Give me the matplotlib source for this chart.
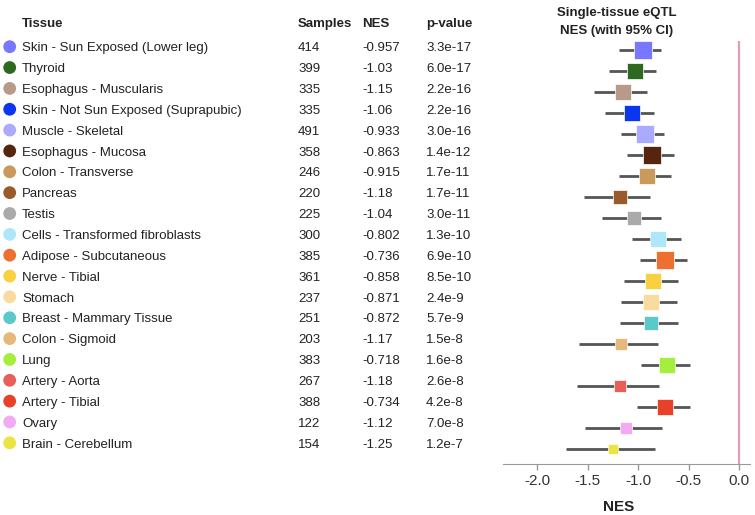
import matplotlib
matplotlib.use("Agg")
import matplotlib.pyplot as plt

plt.rcParams['font.family'] = ['Liberation Sans', 'DejaVu Sans']

tissues = ['Skin - Sun Exposed (Lower leg)', 'Thyroid', 'Esophagus - Muscularis',
           'Skin - Not Sun Exposed (Suprapubic)', 'Muscle - Skeletal', 'Esophagus - Mucosa',
           'Colon - Transverse', 'Pancreas', 'Testis', 'Cells - Transformed fibroblasts',
           'Adipose - Subcutaneous', 'Nerve - Tibial', 'Stomach', 'Breast - Mammary Tissue',
           'Colon - Sigmoid', 'Lung', 'Artery - Aorta', 'Artery - Tibial', 'Ovary',
           'Brain - Cerebellum']
samples = [414, 399, 335, 335, 491, 358, 246, 220, 225, 300,
           385, 361, 237, 251, 203, 383, 267, 388, 122, 154]
nes = [-0.957, -1.03, -1.15, -1.06, -0.933, -0.863, -0.915, -1.18, -1.04, -0.802,
       -0.736, -0.858, -0.871, -0.872, -1.17, -0.718, -1.18, -0.734, -1.12, -1.25]
pvalues = ['3.3e-17', '6.0e-17', '2.2e-16', '2.2e-16', '3.0e-16', '1.4e-12', '1.7e-11',
           '1.7e-11', '3.0e-11', '1.3e-10', '6.9e-10', '8.5e-10', '2.4e-9', '5.7e-9',
           '1.5e-8', '1.6e-8', '2.6e-8', '4.2e-8', '7.0e-8', '1.2e-7']
ci_low = [-1.19, -1.29, -1.44, -1.33, -1.17, -1.11, -1.19, -1.54, -1.36, -1.06,
          -0.98, -1.14, -1.17, -1.18, -1.59, -0.97, -1.61, -1.01, -1.53, -1.72]
ci_high = [-0.77, -0.82, -0.91, -0.84, -0.74, -0.65, -0.68, -0.88, -0.77, -0.58,
           -0.52, -0.61, -0.62, -0.61, -0.80, -0.49, -0.79, -0.49, -0.76, -0.83]
colors = ['#7777FF', '#2d6a1f', '#B89A88', '#0a36f0', '#AAAAFF', '#55260d', '#C99A5B',
          '#9A5A2C', '#AAAAAA', '#AEE6FA', '#EE7030', '#F9D040', '#F8DB9E', '#5BC9C9',
          '#E5B97A', '#A4EE3C', '#E85E58', '#E8412A', '#F3AAF5', '#EAE540']
xticks = [-2.0, -1.5, -1.0, -0.5, 0.0]

W, H = 755, 515
fig = plt.figure(figsize=(W / 100, H / 100), dpi=100)

# table part, drawn in pixel coordinates
tab = fig.add_axes([0, 0, 1, 1])
tab.set_xlim(0, W)
tab.set_ylim(H, 0)
tab.axis('off')

txt = '#222222'
fs = 9.5
row0, step = 51.4, 20.85
tab.text(22, 27.4, 'Tissue', fontsize=fs, fontweight='bold', color=txt, va='baseline')
tab.text(298, 27.4, 'Samples', fontsize=fs, fontweight='bold', color=txt, va='baseline')
tab.text(362, 27.4, 'NES', fontsize=fs, fontweight='bold', color=txt, va='baseline')
tab.text(426, 27.4, 'p-value', fontsize=fs, fontweight='bold', color=txt, va='baseline')
for i, t in enumerate(tissues):
    yb = row0 + i * step
    tab.scatter(9.7, yb - 4.7, s=85, color=colors[i], edgecolors='none')
    tab.text(22, yb, t, fontsize=fs, color=txt, va='baseline')
    tab.text(298, yb, str(samples[i]), fontsize=fs, color=txt, va='baseline')
    tab.text(362, yb, f'{nes[i]:g}', fontsize=fs, color=txt, va='baseline')
    tab.text(426, yb, pvalues[i], fontsize=fs, color=txt, va='baseline')

tab.text(617, 16, 'Single-tissue eQTL', fontsize=fs, fontweight='bold', color=txt,
         ha='center', va='baseline')
tab.text(617, 34, 'NES (with 95% CI)', fontsize=fs, fontweight='bold', color=txt,
         ha='center', va='baseline')
tab.text(619, 510.7, 'NES', fontsize=11, fontweight='bold', color=txt,
         ha='center', va='baseline')

# forest plot
ax = fig.add_axes([502.7 / W, 1 - 463.7 / H, 247.3 / W, 423 / H])
ax.set_xlim(-2.342, 0.107)
ax.set_ylim(19.71, -0.458)
ax.axvline(0, color='#DDA0B8', lw=1.6, zorder=1)
for i in range(len(tissues)):
    ax.plot([ci_low[i], ci_high[i]], [i, i], color='#555555', lw=2, zorder=2,
            solid_capstyle='butt')
    side = 10 * (ci_high[i] - ci_low[i]) ** -0.7  # box shrinks with wider CI
    ax.plot(nes[i], i, marker='s', ms=side * 0.72, color=colors[i],
            markeredgecolor='white', markeredgewidth=0.5, zorder=3)

for s in ['top', 'right', 'left']:
    ax.spines[s].set_visible(False)
ax.spines['bottom'].set_color('#999999')
ax.set_yticks([])
ax.set_xticks(xticks)
ax.set_xticklabels([f'{v:.1f}' for v in xticks])
ax.tick_params(axis='x', colors='#999999', length=4.5, width=1, labelsize=11,
               labelcolor='#333333', pad=3)
ax.patch.set_alpha(0)

plt.savefig('out.png', dpi=100)
